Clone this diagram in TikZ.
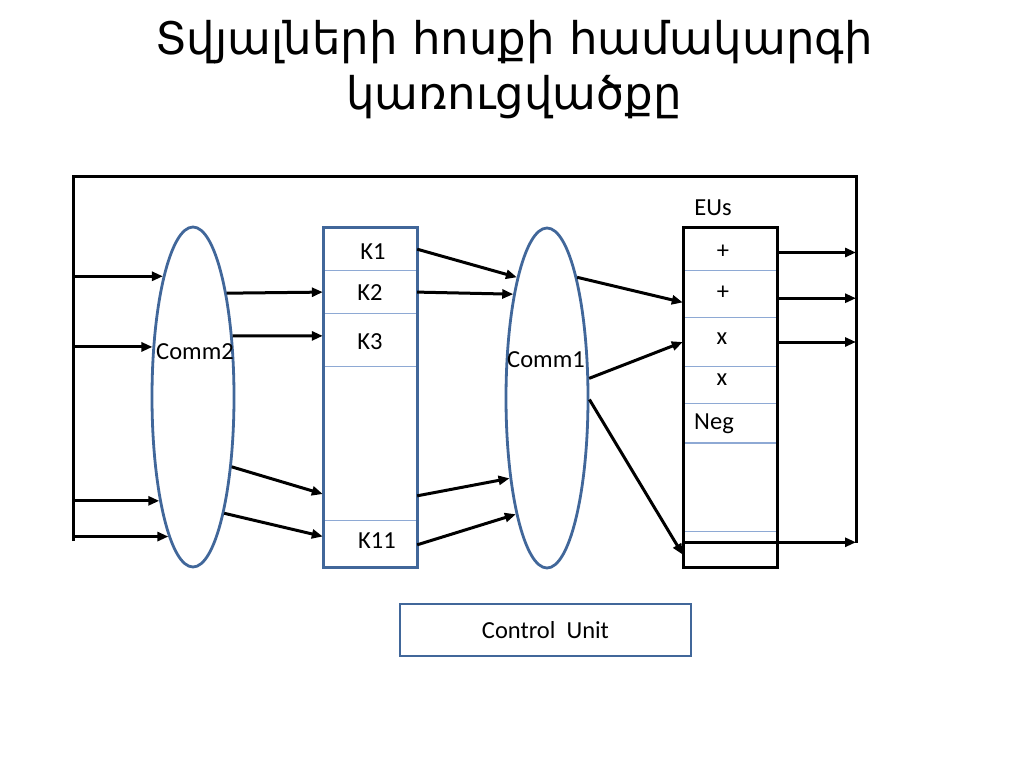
\documentclass[tikz,border=0pt]{standalone}
\usepackage{fontspec}
\setmainfont{Carlito}
\newfontfamily\armfont{DejaVu Sans}
\usetikzlibrary{positioning,shapes.geometric,arrows.meta}
\definecolor{shapeblue}{HTML}{41679A}
\definecolor{lineblue}{HTML}{8EA9D4}

\begin{document}
\begin{tikzpicture}[
  x=1pt, y=-1pt,
  font=\fontsize{24.5}{28}\selectfont,
  comm/.style={draw=shapeblue, line width=2.8pt, ellipse, minimum width=82pt, minimum height=340pt, inner sep=0pt, fill=white},
  column/.style={draw=shapeblue, line width=3pt, minimum width=94pt, minimum height=339pt, inner sep=0pt},
  cell/.style={minimum width=94pt, inner sep=0pt},
  divider/.style={draw=lineblue, line width=1.3pt},
  arrow/.style={-{Triangle[length=11pt,width=9pt]}, draw=black, line width=3pt},
  bus/.style={draw=black, line width=3pt}
]
\fill[white] (0,0) rectangle (1024,767);
\useasboundingbox (0,0) rectangle (1024,767);
\node[font=\armfont\fontsize{45}{55}\selectfont, align=center] (title) at (514,70) {Տվյալների հոսքի համակարգի\\կառուցվածքը};
\coordinate (lt) at (73,177);
\coordinate (rt) at (856,177);
\coordinate (lb) at (73,541);
\coordinate (rb) at (856,543);
\draw[bus] (lb) -- (lt) -- (rt) -- (rb);
\node[comm] (comm2) at (193,397) {};
\node (comm2lbl) at (195,352) {Comm2};
\node[comm] (comm1) at (547,398) {};
\node (comm1lbl) at (546,360) {Comm1};
\node[cell, minimum height=42pt, anchor=north] (k1) at (370,228) {};
\node[cell, minimum height=43pt, below=0pt of k1] (k2) {K2};
\node[cell, minimum height=52pt, below=0pt of k2] (k3) {};
\node[cell, minimum height=154pt, below=0pt of k3] (kmid) {};
\node[cell, minimum height=48pt, below=0pt of kmid] (k11) {};
\node at (373,252) {K1};
\node at (370,342) {K3};
\node at (377,541) {K11};
\foreach \c in {k1,k2,k3,kmid}
  \draw[divider] (\c.south west) -- (\c.south east);
\node[column] (regs) at (370,397.5) {};
\node[cell, minimum height=42pt, anchor=north] (e1) at (730,228) {};
\node[cell, minimum height=47pt, below=0pt of e1] (e2) {};
\node[cell, minimum height=48pt, below=0pt of e2] (e3) {};
\node[cell, minimum height=37pt, below=0pt of e3] (e4) {};
\node[cell, minimum height=39pt, below=0pt of e4] (e5) {};
\node[cell, minimum height=88pt, below=0pt of e5] (e6) {};
\node[cell, minimum height=38pt, below=0pt of e6] (e7) {};
\foreach \c in {e1,e2,e3,e4,e5,e6}
  \draw[divider] (\c.south west) -- (\c.south east);
\node[column, draw=black] (eus) at (730,397.5) {};
\node at (723,252) {+};
\node at (723,293) {+};
\node at (722,339) {x};
\node at (722,380) {x};
\node at (714,424) {Neg};
\node (euslbl) at (713,208) {EUs};
\node[draw=shapeblue, line width=2.8pt, minimum width=291pt, minimum height=52pt] (cu) at (545.5,630) {Control\ \ Unit};
\draw[arrow] (comm2.104 -| lt) -- (comm2.104);
\draw[arrow] (comm2.129 -| lt) -- (comm2.129);
\draw[arrow] (comm2.252 -| lt) -- (comm2.252);
\draw[arrow] (comm2.260 -| lt) -- (comm2.260);
\draw[arrow] (comm2.72) -- (k2.west);
\draw[arrow] (comm2.57) -- (k3.175);
\draw[arrow] (comm2.-61) -- (kmid.227);
\draw[arrow] (comm2.-75) -- (k11.170);
\draw[arrow] (k1.east) -- (comm1.104);
\draw[arrow] (k2.east) -- (comm1.108);
\draw[arrow] (kmid.-48) -- (comm1.245);
\draw[arrow] (k11.east) -- (comm1.255);
\draw[arrow] (comm1.76) -- (e2.190);
\draw[arrow] (comm1.25) -- (e3.west);
\draw[arrow] (comm1.-2) -- (e7.185);
\draw[arrow] (e1.-4) -- (e1.-4 -| rt);
\draw[arrow] (e2.-5) -- (e2.-5 -| rt);
\draw[arrow] (e3.east) -- (e3.east -| rt);
\draw[arrow] (e7.170) -- (e7.170 -| rt);
\end{tikzpicture}
\end{document}
